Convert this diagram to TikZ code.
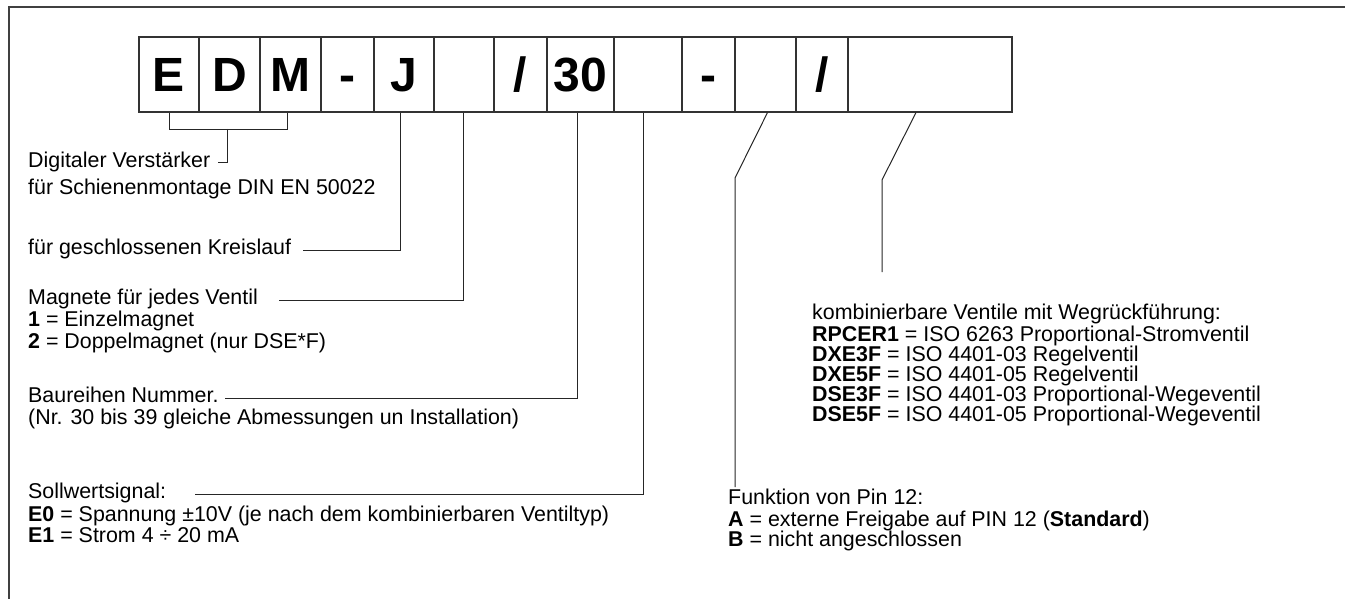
\documentclass[tikz,border=0pt]{standalone}
\usepackage{fontspec}
\setmainfont{Liberation Sans}
\usepackage{tikz}

\begin{document}
\begin{tikzpicture}[x=1pt,y=-1pt,
        cell/.style={draw=black!80,line width=1.1pt,minimum height=75pt,inner sep=0pt,
            text height=35pt,text depth=0pt,font=\fontsize{48}{48}\selectfont\bfseries},
        txt/.style={anchor=west,inner sep=0pt,text height=13.5pt,text depth=4pt,
            font=\fontsize{21.4}{24}\selectfont},
        lead/.style={black!85,line width=1pt}]
        \useasboundingbox (0,0) rectangle (1345,599);
        \draw[black!75,line width=2pt] (9,599) -- (9,7) -- (1345,7);
        % code boxes
        \draw (169,74.5) node[cell,minimum width=60pt](bE) {E};
        \draw (229.5,74.5) node[cell,minimum width=61pt](bD) {D};
        \draw (290.5,74.5) node[cell,minimum width=61pt](bM) {M};
        \draw (347.5,74.5) node[cell,minimum width=53pt](bH1) {-};
        \draw (404,74.5) node[cell,minimum width=60pt](bJ) {J};
        \draw (464,74.5) node[cell,minimum width=60pt](bMag) {};
        \draw (520.5,74.5) node[cell,minimum width=53pt](bS1) {/};
        \draw (580.5,74.5) node[cell,minimum width=67pt](bSer) {30};
        \draw (648,74.5) node[cell,minimum width=68pt](bSig) {};
        \draw (708.5,74.5) node[cell,minimum width=53pt](bH2) {-};
        \draw (765.5,74.5) node[cell,minimum width=61pt](bPin) {};
        \draw (822,74.5) node[cell,minimum width=52pt](bS2) {/};
        \draw (930,74.5) node[cell,minimum width=164pt](bVal) {};
        % left texts
        \draw (28,163) node[txt](tDig) {Digitaler Verstärker};
        \draw (28,190) node[txt](tRail) {für Schienenmontage DIN EN 50022};
        \draw (28,250) node[txt](tLoop) {für geschlossenen Kreislauf};
        \draw (28,300) node[txt](tMag) {Magnete für jedes Ventil};
        \draw (28,322) node[txt](tMagA) {\textbf{1} = Einzelmagnet};
        \draw (28,344) node[txt](tMagB) {\textbf{2} = Doppelmagnet (nur DSE*F)};
        \draw (28,398) node[txt](tSer) {Baureihen Nummer.};
        \draw (28,420) node[txt](tSerB) {(Nr. 30 bis 39 gleiche Abmessungen un Installation)};
        \draw (28,494) node[txt](tSig) {Sollwertsignal:};
        \draw (28,517) node[txt](tSigA) {\textbf{E0} = Spannung ±10V (je nach dem kombinierbaren Ventiltyp)};
        \draw (28,538) node[txt](tSigB) {\textbf{E1} = Strom 4 ÷ 20 mA};
        % right texts
        \draw (812,315) node[txt](tVal) {kombinierbare Ventile mit Wegrückführung:};
        \draw (812,337) node[txt](tValA) {\textbf{RPCER1} = ISO 6263 Proportional-Stromventil};
        \draw (812,357) node[txt](tValB) {\textbf{DXE3F} = ISO 4401-03 Regelventil};
        \draw (812,377) node[txt](tValC) {\textbf{DXE5F} = ISO 4401-05 Regelventil};
        \draw (812,397) node[txt](tValD) {\textbf{DSE3F} = ISO 4401-03 Proportional-Wegeventil};
        \draw (812,417) node[txt](tValE) {\textbf{DSE5F} = ISO 4401-05 Proportional-Wegeventil};
        \draw (728,500) node[txt](tPin) {Funktion von Pin 12:};
        \draw (728,522) node[txt](tPinA) {\textbf{A} = externe Freigabe auf PIN 12 (\textbf{Standard})};
        \draw (728,542) node[txt](tPinB) {\textbf{B} = nicht angeschlossen};
        % leader lines
        \coordinate (brk) at (227,129);
        \coordinate (kPin) at (735,178);
        \coordinate (kVal) at (882,180);
        \coordinate (kValEnd) at (882,272);
        \draw[lead] (bE.south) -- ++(0,17) -| ([xshift=-3pt]bM.south);
        \draw[lead] (brk) |- ([xshift=8pt]tDig.east);
        \draw[lead] ([xshift=-4pt]bJ.south) |- ([xshift=12pt]tLoop.east);
        \draw[lead] ([xshift=-1pt]bMag.south) |- ([xshift=21pt]tMag.east);
        \draw[lead] ([xshift=-3pt]bSer.south) |- ([xshift=6pt]tSer.east);
        \draw[lead] ([xshift=-5pt]bSig.south) |- ([xshift=29pt]tSig.east);
        \draw[lead,shorten >=4pt] ([xshift=2pt]bPin.south) -- (kPin) -- (kPin |- tPin.north);
        \draw[lead] ([xshift=-14pt]bVal.south) -- (kVal) -- (kValEnd);
    \end{tikzpicture}
\end{document}
